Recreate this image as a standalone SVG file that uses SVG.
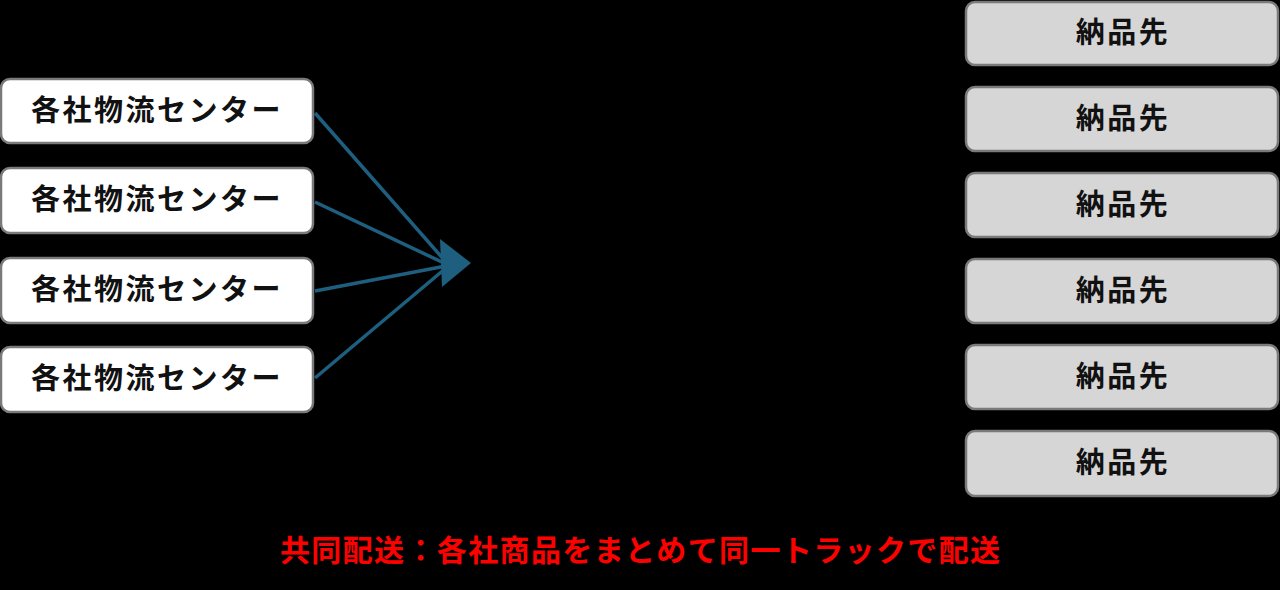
<svg xmlns="http://www.w3.org/2000/svg" width="1280" height="590" viewBox="0 0 1280 590">
<style>
.src rect{fill:#ffffff;stroke:#7a7a7a;stroke-width:2.5}
.dst rect{fill:#d6d6d6;stroke:#7a7a7a;stroke-width:2.5}
text{font-family:"Noto Sans CJK JP","Noto Sans CJK SC",sans-serif;font-weight:bold;fill:#111;text-anchor:middle}
.lbl{font-size:29px;letter-spacing:2.5px}
.cap{font-size:30px;fill:#ff0000}
.conn line{stroke:#1e5f80;stroke-width:3.5}
</style>
<rect x="0" y="0" width="1280" height="590" fill="#000000"/>
<g id="src1" class="src"><rect x="1" y="79" width="312" height="64" rx="9"/><text class="lbl" x="157" y="121">各社物流センター</text></g>
<g id="src2" class="src"><rect x="1" y="168" width="312" height="65" rx="9"/><text class="lbl" x="157" y="210">各社物流センター</text></g>
<g id="src3" class="src"><rect x="1" y="258" width="312" height="65" rx="9"/><text class="lbl" x="157" y="300">各社物流センター</text></g>
<g id="src4" class="src"><rect x="1" y="347" width="312" height="65" rx="9"/><text class="lbl" x="157" y="389">各社物流センター</text></g>
<g id="dst1" class="dst"><rect x="966" y="2" width="312" height="63" rx="9"/><text class="lbl" x="1123" y="43">納品先</text></g>
<g id="dst2" class="dst"><rect x="966" y="87" width="312" height="64" rx="9"/><text class="lbl" x="1123" y="129">納品先</text></g>
<g id="dst3" class="dst"><rect x="966" y="173" width="312" height="64" rx="9"/><text class="lbl" x="1123" y="215">納品先</text></g>
<g id="dst4" class="dst"><rect x="966" y="259" width="312" height="64" rx="9"/><text class="lbl" x="1123" y="301">納品先</text></g>
<g id="dst5" class="dst"><rect x="966" y="345" width="312" height="64" rx="9"/><text class="lbl" x="1123" y="387">納品先</text></g>
<g id="dst6" class="dst"><rect x="966" y="431" width="312" height="65" rx="9"/><text class="lbl" x="1123" y="473">納品先</text></g>
<g id="connectors" class="conn">
<line x1="315" y1="113" x2="446" y2="262"/>
<line x1="315" y1="202" x2="446" y2="264"/>
<line x1="315" y1="291" x2="446" y2="266"/>
<line x1="315" y1="378" x2="446" y2="268"/>
<polygon points="440,239 471,263 442,287" fill="#1e5f80"/>
</g>
<text class="cap" x="640" y="561" textLength="720" lengthAdjust="spacing">共同配送：各社商品をまとめて同一トラックで配送</text>
</svg>
